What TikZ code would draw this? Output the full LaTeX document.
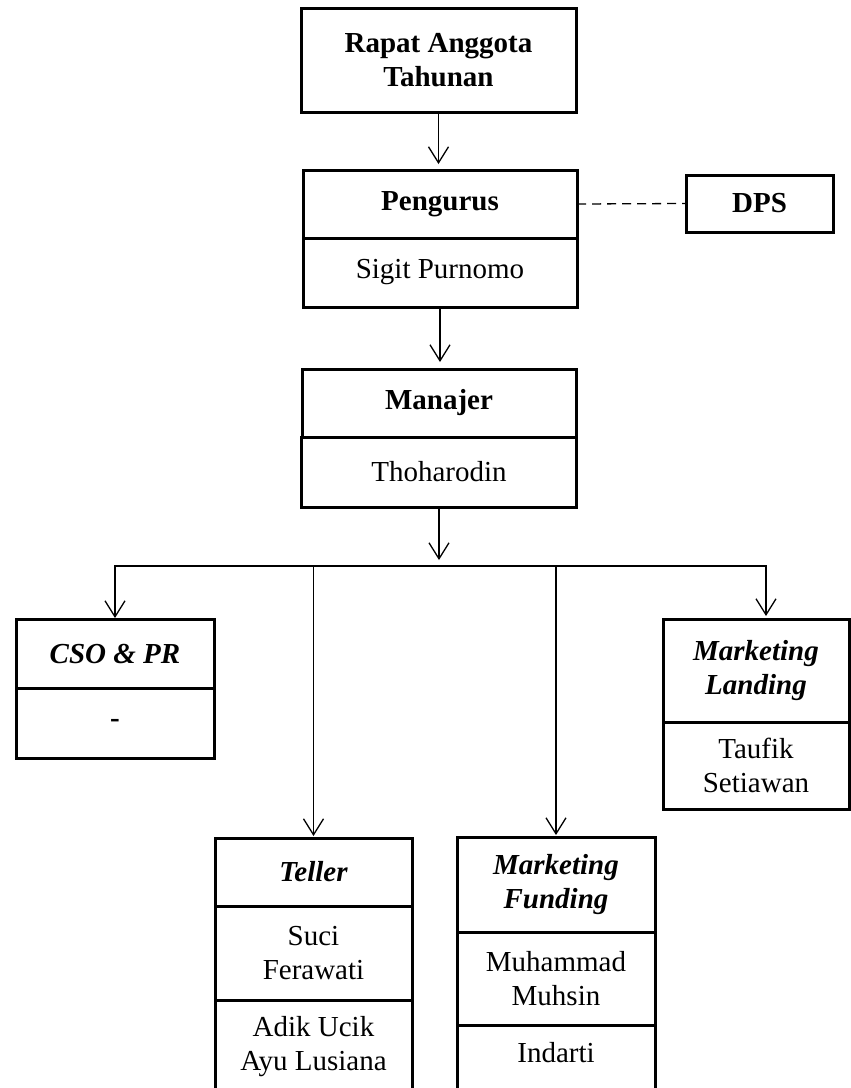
\documentclass[tikz,border=0pt]{standalone}
\usepackage{fontspec}
\setmainfont{Liberation Serif}
\usetikzlibrary{positioning,arrows.meta}

\newcommand\orgsize{\fontsize{29}{34}\selectfont}

\tikzset{
	cell/.style={draw, line width=3pt, anchor=north, outer sep=0pt, inner sep=0pt, align=center, font=\orgsize},
	head/.style={cell, font=\orgsize\bfseries},
	ihead/.style={cell, font=\orgsize\bfseries\itshape},
	arr/.style={line width=1.3pt, -{Straight Barb[length=16pt,width=20pt]}},
}

\begin{document}
\begin{tikzpicture}[x=1pt, y=-1pt]
		\useasboundingbox (0,0) rectangle (851,1088);
		\node[head, minimum width=275pt, minimum height=104pt] (rapat) at (438.5,8) {Rapat Anggota\\Tahunan};
		\node[head, minimum width=274pt, minimum height=68pt] (pengurus) at (440,170) {Pengurus};
		\node[cell, minimum width=274pt, minimum height=69pt] (sigit) at (pengurus.south) {Sigit Purnomo};
		\node[head, minimum width=147pt, minimum height=57pt] (dps) at (759.5,175) {DPS};
		\node[head, minimum width=274pt, minimum height=68pt] (manajer) at (439,369) {Manajer};
		\node[cell, minimum width=275pt, minimum height=70pt] (thoharodin) at (manajer.south) {Thoharodin};
		% bagian
		\node[ihead, minimum width=198pt, minimum height=69pt] (cso) at (115,619) {CSO \& PR};
		\node[head, minimum width=198pt, minimum height=70pt] (csoNama) at (cso.south) {-};
		\node[ihead, minimum width=186pt, minimum height=103pt] (landing) at (756,619) {Marketing\\Landing};
		\node[cell, minimum width=186pt, minimum height=87pt] (landingNama) at (landing.south) {Taufik\\Setiawan};
		\node[ihead, minimum width=197pt, minimum height=68pt] (teller) at (313.5,838) {Teller};
		\node[cell, minimum width=197pt, minimum height=94pt] (tellerA) at (teller.south) {Suci\\Ferawati};
		\node[cell, minimum width=197pt, minimum height=94pt] (tellerB) at (tellerA.south) {Adik Ucik\\Ayu Lusiana};
		\node[ihead, minimum width=198pt, minimum height=95pt] (funding) at (556,837) {Marketing\\Funding};
		\node[cell, minimum width=198pt, minimum height=93pt] (fundingA) at (funding.south) {Muhammad\\Muhsin};
		\node[cell, minimum width=198pt, text height=37pt, text depth=70pt] (fundingB) at (fundingA.south) {Indarti};
		% garis
		\coordinate (bus) at (439,566);
		\draw[arr, shorten >=6pt] (rapat.south) -- (rapat.south |- pengurus.north);
		\draw[arr, shorten >=7pt] (sigit.south) -- (sigit.south |- manajer.north);
		\draw[arr, shorten >=6pt] (thoharodin.south) -- (bus);
		\draw[arr, shorten >=1pt] (bus) -| (cso.north);
		\draw[arr, shorten >=2pt] (bus) -| (teller.north);
		\draw[arr, shorten >=2pt] (bus) -| (funding.north);
		\draw[arr, shorten >=3pt] (bus) -| ([xshift=10pt]landing.north);
		\draw[line width=1.3pt, dash pattern=on 9pt off 6pt] (pengurus.east) -- (dps.west);
	\end{tikzpicture}
\end{document}
